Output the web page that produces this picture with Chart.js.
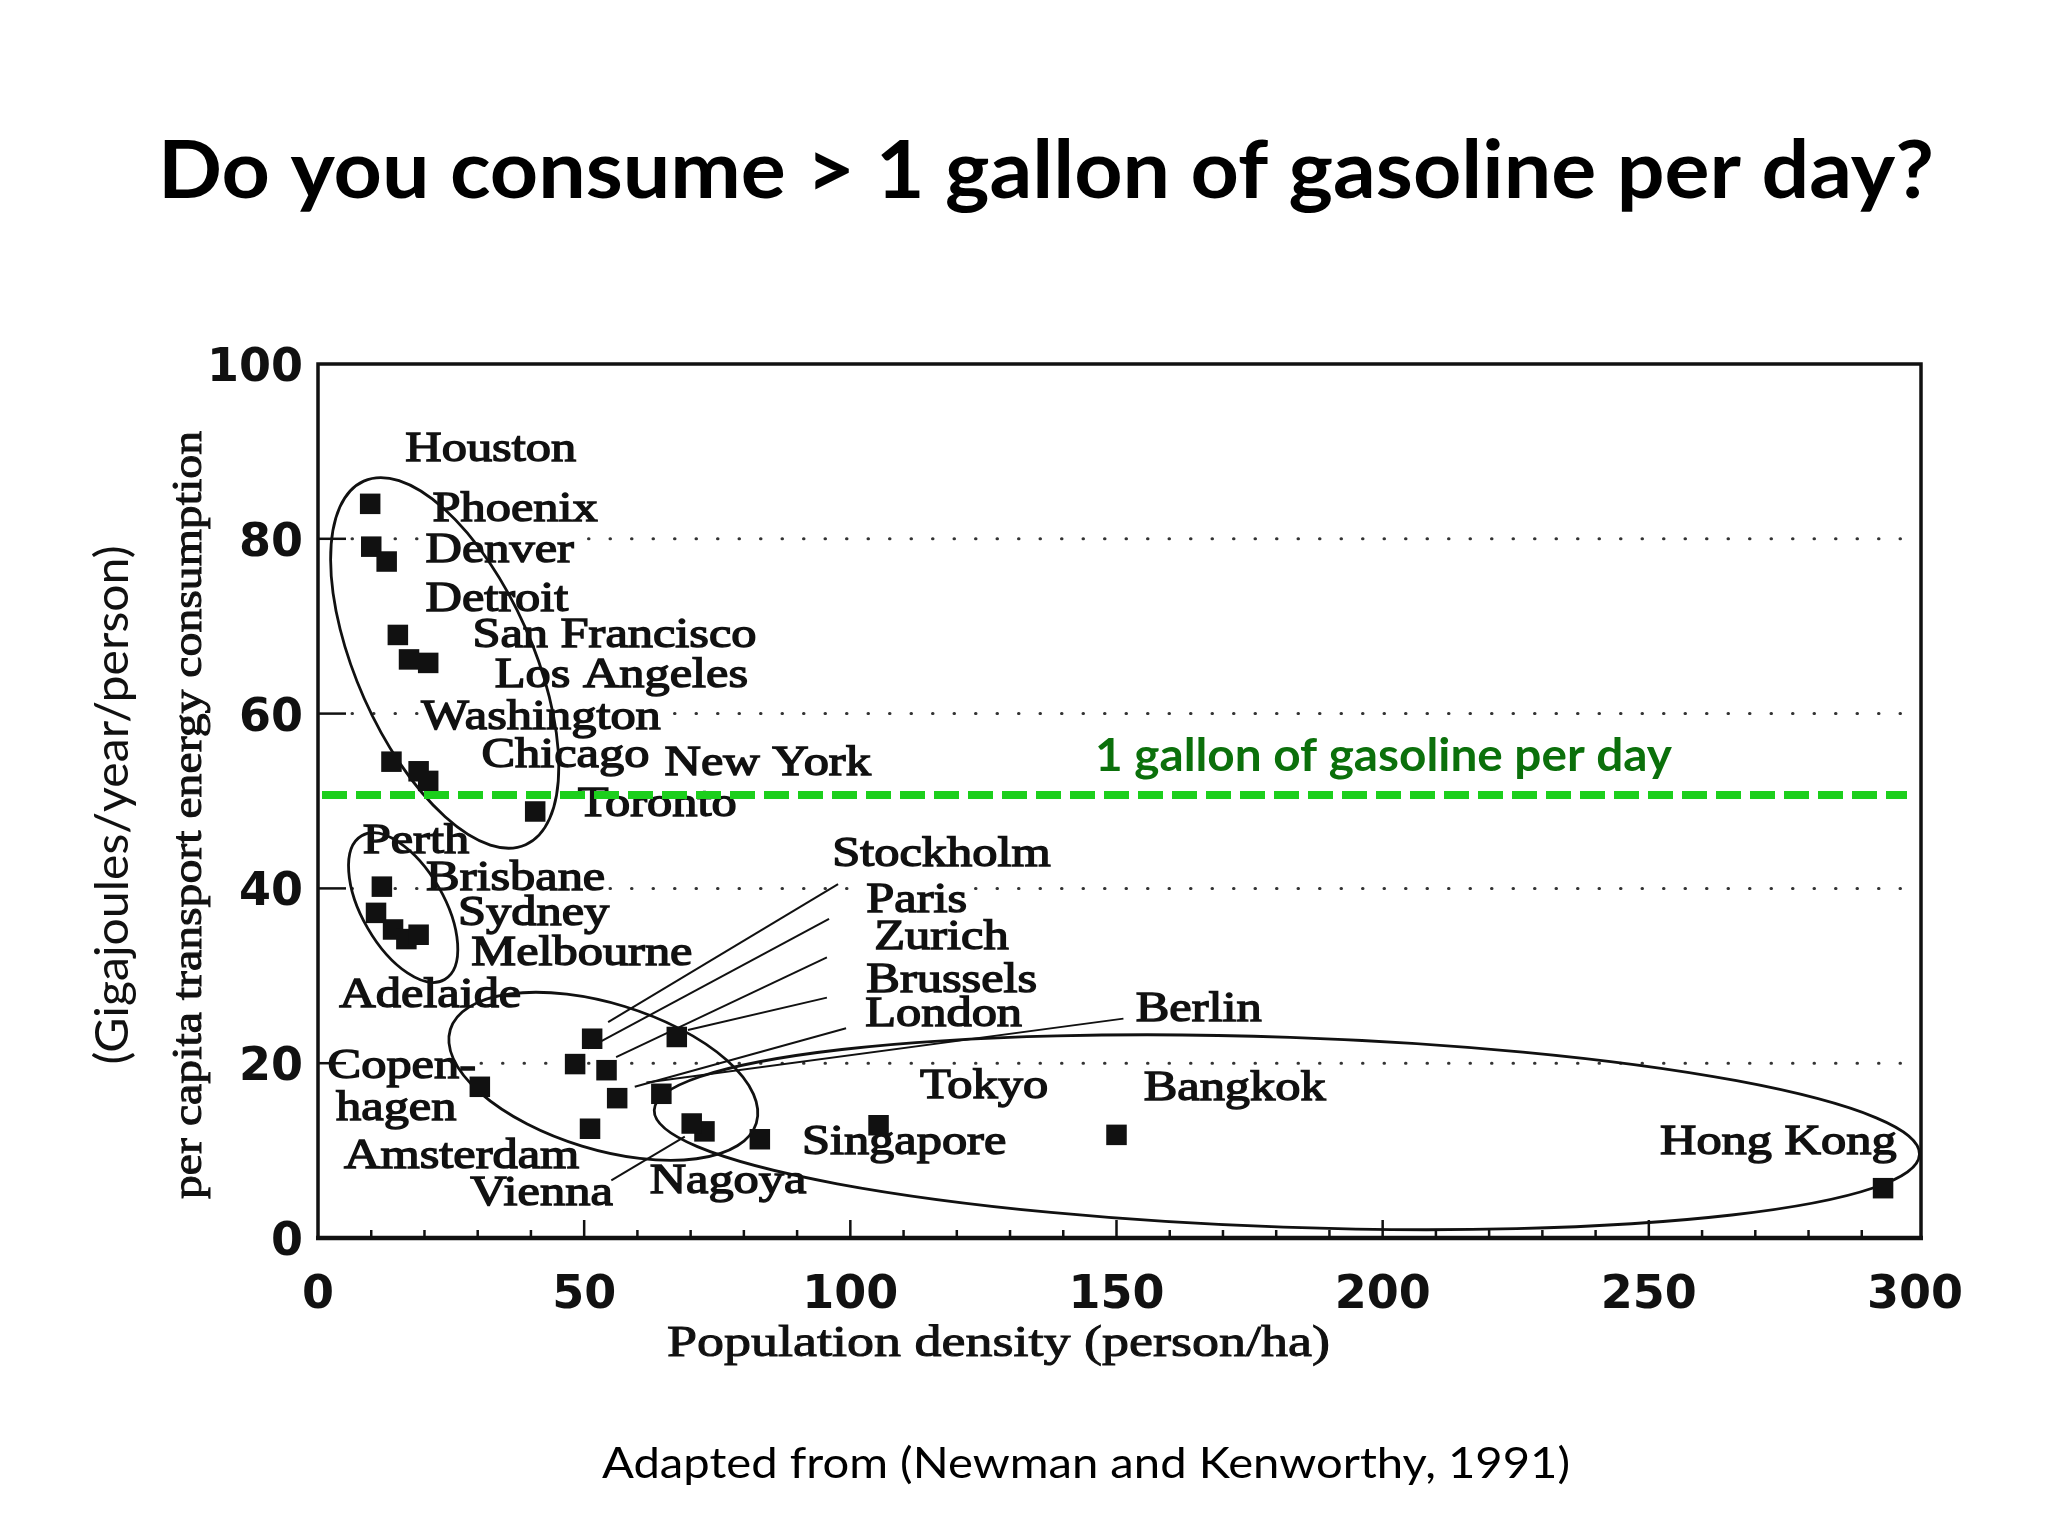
<!DOCTYPE html>
<html>
<head>
<meta charset="utf-8">
<title>Do you consume &gt; 1 gallon of gasoline per day?</title>
<script src="https://cdn.jsdelivr.net/npm/chart.js@4.4.1/dist/chart.umd.min.js"></script>
<style>
  html, body { margin: 0; padding: 0; background: #fff; }
  #wrap { width: 2048px; height: 1536px; }
</style>
</head>
<body>
<div id="wrap"><canvas id="densityChart" width="2048" height="1536"></canvas></div>
<script>
// --- data (Newman & Kenworthy, 1991) ---
const cityNames = [
    'Houston', 'Phoenix', 'Denver', 'Detroit', 'San Francisco', 'Los Angeles',
    'Washington', 'Chicago', 'New York', 'Toronto',
    'Perth', 'Brisbane', 'Sydney', 'Melbourne', 'Adelaide',
    'Copenhagen', 'Stockholm', 'Paris', 'Zurich', 'Brussels', 'London', 'Berlin',
    'Amsterdam', 'Vienna', 'Nagoya', 'Singapore', 'Tokyo', 'Bangkok', 'Hong Kong'
];
// population density (person/ha)
const densityValues = [
    9.8, 10.0, 12.9, 15.0, 17.1, 20.7,
    13.8, 18.9, 20.7, 40.8,
    12.0, 10.9, 14.1, 16.6, 18.9,
    30.4, 51.5, 48.3, 54.2, 67.4, 56.2, 64.5,
    51.1, 72.6, 70.2, 83.0, 105.3, 150.0, 294.0
];
// per capita transport energy consumption (GJ/year/person)
const energyValues = [
    84.0, 79.1, 77.4, 69.0, 66.2, 65.8,
    54.5, 53.4, 52.3, 48.8,
    40.2, 37.2, 35.3, 34.2, 34.7,
    17.3, 22.8, 19.9, 19.2, 23.0, 16.0, 16.5,
    12.5, 12.2, 13.1, 11.3, 12.9, 11.8, 5.7
];
const xTickValues = [0, 50, 100, 150, 200, 250, 300];
const yTickValues = [0, 20, 40, 60, 80, 100];
const gallonPerDay = 50.7;   // GJ/year for 1 gallon of gasoline a day

// --- annotation layout (data units for anchors, pixels for sizes) ---
const cityLabels = [
    ['Houston', 16.4, 88.9], ['Phoenix', 21.5, 82.0], ['Denver', 20.2, 77.3],
    ['Detroit', 20.2, 71.7], ['San Francisco', 29.0, 67.6], ['Los Angeles', 33.2, 63.0],
    ['Washington', 19.4, 58.2], ['Chicago', 30.7, 53.9], ['New York', 65.1, 53.0],
    ['Toronto', 48.8, 48.3],
    ['Perth', 8.4, 44.0], ['Brisbane', 20.3, 39.8], ['Sydney', 26.3, 35.8],
    ['Melbourne', 28.8, 31.2], ['Adelaide', 4.0, 26.4],
    ['Copen-', 1.8, 18.3], ['hagen', 3.4, 13.5], ['Amsterdam', 4.9, 8.0],
    ['Vienna', 28.6, 3.8], ['Nagoya', 62.3, 5.1],
    ['Stockholm', 96.6, 42.6], ['Paris', 103.0, 37.3], ['Zurich', 104.5, 33.1],
    ['Brussels', 103.0, 28.1], ['London', 102.8, 24.3], ['Berlin', 153.6, 24.8],
    ['Tokyo', 113.1, 16.0], ['Bangkok', 155.1, 15.8], ['Singapore', 90.9, 9.6],
    ['Hong Kong', 252.1, 9.6]
];
// leader lines: [x1, y1, x2, y2] in data units
const leaderLines = [
    [54.5, 24.7, 97.7, 40.5],   // Stockholm
    [50.7, 21.7, 96.0, 36.5],   // Paris
    [56.0, 20.7, 95.6, 32.1],   // Zurich
    [69.5, 23.8, 95.6, 27.5],   // Brussels
    [59.5, 17.3, 99.2, 24.0],   // London
    [61.7, 17.8, 151.3, 25.1],  // Berlin
    [55.1, 6.6, 68.9, 11.6]     // Vienna
];
// group ellipses: centre in data units, radii in px, rotation in degrees
const groupEllipses = [
    { cx: 23.8, cy: 65.8, rx: 199, ry: 88, rot: 66 },   // US / Canada
    { cx: 16.0, cy: 37.8, rx: 83, ry: 41, rot: 60 },    // Australia
    { cx: 53.6, cy: 18.5, rx: 160, ry: 73, rot: 17 },   // Europe
    { cx: 182.0, cy: 12.1, rx: 633, ry: 95, rot: 2 }    // Asia
];

const SERIF = '"Liberation Serif", "Times New Roman", serif';
const SANS = 'Lato, "Open Sans", sans-serif';
const LABEL_FONT = '42px ' + SERIF;
const LABEL_SX = 1.2;

// draw a string, optionally squeezed/stretched to a given width
function drawText(ctx, text, x, y, o) {
    ctx.save();
    ctx.font = o.font;
    ctx.fillStyle = o.color || '#111';
    ctx.textBaseline = o.baseline || 'alphabetic';
    ctx.textAlign = 'left';
    const w = ctx.measureText(text).width;
    const sx = o.width ? o.width / w : (o.sx || 1);
    ctx.translate(x, y);
    if (o.rotate) ctx.rotate(o.rotate);
    ctx.scale(sx, 1);
    const x0 = o.align === 'center' ? -w / 2 : 0;
    ctx.fillText(text, x0, 0);
    if (o.stroke) {
        ctx.lineWidth = o.stroke;
        ctx.strokeStyle = ctx.fillStyle;
        ctx.strokeText(text, x0, 0);
    }
    ctx.restore();
}

const figurePlugin = {
    id: 'figureDecor',
    beforeDatasetsDraw(chart) {
        const { ctx, chartArea: a, scales: { x, y } } = chart;

        // dotted horizontal grid lines
        ctx.save();
        ctx.strokeStyle = '#333';
        ctx.lineWidth = 3;
        ctx.lineCap = 'round';
        ctx.setLineDash([0.5, 21]);
        yTickValues.filter(v => v > 0 && v < 100).forEach(v => {
            const py = y.getPixelForValue(v);
            ctx.beginPath();
            ctx.moveTo(a.left + 34, py);
            ctx.lineTo(a.right - 8, py);
            ctx.stroke();
        });
        ctx.restore();

        // white boxes behind the city names (they knock out the dots)
        ctx.save();
        ctx.font = LABEL_FONT;
        ctx.fillStyle = '#fff';
        cityLabels.forEach(([t, lx, ly]) => {
            const px = x.getPixelForValue(lx), py = y.getPixelForValue(ly);
            const w = ctx.measureText(t).width * LABEL_SX;
            ctx.fillRect(px - 2, py - 30, w + 4, 40);
        });
        ctx.restore();

        // group ellipses
        ctx.save();
        ctx.strokeStyle = '#111';
        ctx.lineWidth = 2.8;
        groupEllipses.forEach(e => {
            ctx.beginPath();
            ctx.ellipse(x.getPixelForValue(e.cx), y.getPixelForValue(e.cy),
                e.rx, e.ry, e.rot * Math.PI / 180, 0, Math.PI * 2);
            ctx.stroke();
        });

        // leader lines
        ctx.lineWidth = 2;
        leaderLines.forEach(([x1, y1, x2, y2]) => {
            ctx.beginPath();
            ctx.moveTo(x.getPixelForValue(x1), y.getPixelForValue(y1));
            ctx.lineTo(x.getPixelForValue(x2), y.getPixelForValue(y2));
            ctx.stroke();
        });
        ctx.restore();
    },
    afterDatasetsDraw(chart) {
        const { ctx, chartArea: a, scales: { x, y } } = chart;

        // city names
        cityLabels.forEach(([t, lx, ly]) => {
            drawText(ctx, t, x.getPixelForValue(lx), y.getPixelForValue(ly),
                { font: LABEL_FONT, sx: LABEL_SX, stroke: 1.4 });
        });

        // 1 gallon per day line
        const gy = y.getPixelForValue(gallonPerDay);
        ctx.save();
        ctx.strokeStyle = '#1ccf1c';
        ctx.lineWidth = 8;
        ctx.setLineDash([25, 9]);
        ctx.beginPath();
        ctx.moveTo(a.left + 4, gy);
        ctx.lineTo(a.right - 8, gy);
        ctx.stroke();
        ctx.restore();
        drawText(ctx, '1 gallon of gasoline per day', 1095, gy - 24,
            { font: 'bold 46px ' + SANS, color: '#0b700b', width: 577 });

        // frame
        ctx.save();
        ctx.strokeStyle = '#111';
        ctx.lineWidth = 3.5;
        ctx.beginPath();
        ctx.moveTo(a.left, a.bottom);
        ctx.lineTo(a.left, a.top);
        ctx.lineTo(a.right + 6, a.top);
        ctx.lineTo(a.right + 6, a.bottom);
        ctx.stroke();
        ctx.lineWidth = 4.5;
        ctx.beginPath();
        ctx.moveTo(a.left - 2, a.bottom);
        ctx.lineTo(a.right + 8, a.bottom);
        ctx.stroke();

        // inward tick marks
        ctx.lineWidth = 2.5;
        yTickValues.filter(v => v > 0 && v < 100).forEach(v => {
            const py = y.getPixelForValue(v);
            ctx.beginPath();
            ctx.moveTo(a.left, py);
            ctx.lineTo(a.left + 28, py);
            ctx.stroke();
        });
        for (let v = 10; v < 300; v += 10) {
            const px = x.getPixelForValue(v);
            const len = v % 50 === 0 ? 18 : 8;
            ctx.beginPath();
            ctx.moveTo(px, a.bottom);
            ctx.lineTo(px, a.bottom - len);
            ctx.stroke();
        }
        ctx.restore();

        // axis titles
        drawText(ctx, 'Population density (person/ha)', 667, 1356,
            { font: '44px ' + SERIF, width: 663, stroke: 1 });
        drawText(ctx, 'per capita transport energy consumption', 190, 815,
            { font: '42px ' + SERIF, width: 768, rotate: -Math.PI / 2,
              align: 'center', baseline: 'middle', stroke: 1 });
        drawText(ctx, '(Gigajoules/year/person)', 113, 805,
            { font: '46px ' + SANS, width: 519, rotate: -Math.PI / 2,
              align: 'center', baseline: 'middle' });

        // slide title and source note
        drawText(ctx, 'Do you consume > 1 gallon of gasoline per day?', 158, 198,
            { font: 'bold 80px ' + SANS, color: '#000', width: 1776 });
        drawText(ctx, 'Adapted from (Newman and Kenworthy, 1991)', 602, 1478,
            { font: '42px ' + SANS, color: '#000', width: 968 });
    }
};

const tickFont = { family: '"DejaVu Sans", sans-serif', weight: 'bold', size: 46 };

new Chart(document.getElementById('densityChart').getContext('2d'), {
    type: 'scatter',
    data: {
        datasets: [{
            label: 'Cities',
            data: densityValues.map((d, i) => ({ x: d, y: energyValues[i], name: cityNames[i] })),
            backgroundColor: '#111',
            borderWidth: 0,
            pointStyle: 'rect',
            pointRadius: 14.5,
            pointHoverRadius: 14.5
        }]
    },
    options: {
        responsive: false,
        animation: false,
        devicePixelRatio: 1,
        events: [],
        layout: { padding: { left: 0, right: 133, top: 364, bottom: 0 } },
        plugins: {
            legend: { display: false },
            tooltip: { enabled: false },
            title: { display: false }
        },
        scales: {
            x: {
                type: 'linear',
                min: 0,
                max: 300,
                grid: { display: false, drawTicks: false },
                border: { display: false },
                afterBuildTicks: s => { s.ticks = xTickValues.map(v => ({ value: v })); },
                afterFit: s => { s.height = 298; },
                ticks: { font: tickFont, color: '#111', padding: 30, maxRotation: 0, autoSkip: false }
            },
            y: {
                type: 'linear',
                min: 0,
                max: 100,
                grid: { display: false, drawTicks: false },
                border: { display: false },
                afterBuildTicks: s => { s.ticks = yTickValues.map(v => ({ value: v })); },
                afterFit: s => { s.width = 318; },
                ticks: { font: tickFont, color: '#111', padding: 15, labelOffset: 5, autoSkip: false }
            }
        }
    },
    plugins: [figurePlugin]
});
</script>
</body>
</html>
